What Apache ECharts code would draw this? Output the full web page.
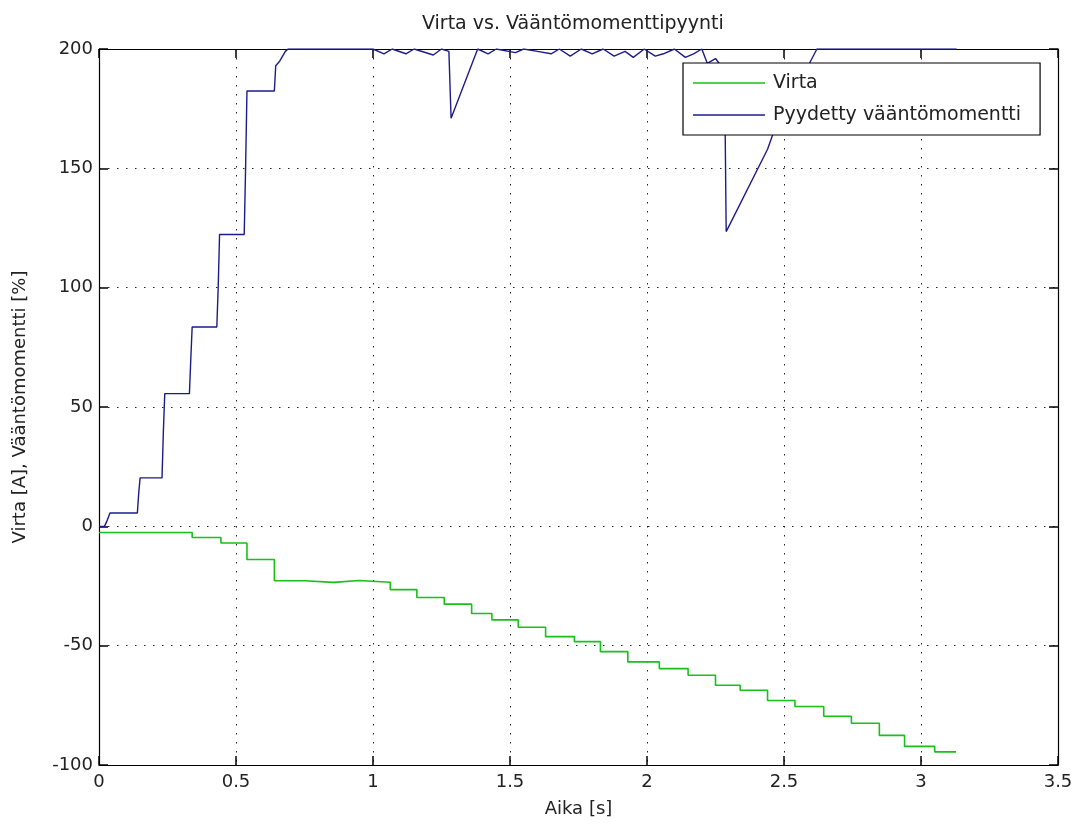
<!DOCTYPE html>
<html>
<head>
<meta charset="utf-8">
<script src="https://cdn.jsdelivr.net/npm/echarts@6/dist/echarts.min.js"></script>
<style>html,body{margin:0;padding:0;background:#fff}#c{width:1078px;height:825px}</style>
</head>
<body>
<div id="c"></div>
<script>
// ---- data ----
const titleText = 'Virta vs. Vääntömomenttipyynti';
const xName = 'Aika [s]';
const yName = 'Virta [A], Vääntömomentti [%]';
const seriesNames = ['Virta', 'Pyydetty vääntömomentti'];
const xTicks = [0, 0.5, 1, 1.5, 2, 2.5, 3, 3.5];
const yTicks = [-100, -50, 0, 50, 100, 150, 200];

// Virta (current): step levels, each starting at given time
const virtaTime = [0, 0.34, 0.445, 0.54, 0.64, 0.75, 0.856, 0.95, 1.063, 1.16, 1.26, 1.36, 1.434, 1.53, 1.63, 1.735, 1.83, 1.93, 2.045, 2.15, 2.25, 2.34, 2.44, 2.54, 2.645, 2.746, 2.848, 2.94, 3.05, 3.128];
const virtaValue = [-2.6, -4.7, -7.0, -13.9, -22.8, -23.5, -22.7, -23.4, -26.5, -29.8, -32.6, -36.5, -39.2, -42.3, -46.2, -48.3, -52.5, -56.8, -59.6, -62.4, -66.6, -68.7, -73.0, -75.5, -79.6, -82.5, -87.6, -92.2, -94.5, -94.5];

// Pyydetty vääntömomentti (requested torque)
const torqueTime = [0, 0.02, 0.03, 0.04, 0.14, 0.145, 0.15, 0.23, 0.235, 0.24, 0.33, 0.335, 0.34, 0.43, 0.435, 0.44, 0.53, 0.535, 0.54, 0.64, 0.645, 0.66, 0.68, 0.69, 1.0, 1.04, 1.07, 1.12, 1.15, 1.22, 1.25, 1.277, 1.285, 1.382, 1.42, 1.45, 1.52, 1.55, 1.6, 1.65, 1.68, 1.72, 1.76, 1.8, 1.84, 1.88, 1.92, 1.95, 1.99, 2.03, 2.06, 2.1, 2.14, 2.17, 2.2, 2.22, 2.25, 2.27, 2.283, 2.289, 2.44, 2.46, 2.62, 3.13];
const torqueValue = [0, 0, 2.5, 5.6, 5.6, 14, 20.3, 20.3, 40, 55.6, 55.6, 70, 83.5, 83.5, 100, 122.3, 122.3, 150, 182.4, 182.4, 193, 195, 199, 200, 200, 198, 200, 198, 200, 197.5, 200, 199, 171, 200, 198, 200, 198.5, 200, 199, 198, 200, 197, 200, 198, 200, 197, 199, 196.5, 200, 197, 198, 200, 196.5, 198, 200, 194, 196, 193, 192, 123.5, 158, 164.5, 200, 200];

const virtaData = virtaTime.map((t, i) => [t, virtaValue[i]]);
const torqueData = torqueTime.map((t, i) => [t, torqueValue[i]]);

const FONT = 'DejaVu Sans';
const chart = echarts.init(document.getElementById('c'), null, {renderer: 'canvas'});
const gridLine = {show: true, lineStyle: {color: '#222', width: 1, type: [1.5, 7.5]}};
const axLine = {show: true, onZero: false, lineStyle: {color: '#000', width: 1.2}};
const tick = {show: true, inside: true, length: 9, lineStyle: {color: '#000', width: 1.5}};
const lbl = {color: '#222', fontFamily: FONT, fontSize: 18};

chart.setOption({
  backgroundColor: '#fff',
  animation: false,
  title: {
    text: titleText, left: 422, top: 15, padding: 0,
    textStyle: {fontFamily: FONT, fontSize: 19, fontWeight: 'normal', color: '#222'}
  },
  grid: {left: 99, right: 20, top: 49, bottom: 60, containLabel: false},
  legend: {
    orient: 'vertical', left: 683, top: 63,
    padding: [9, 19, 9, 10], itemGap: 10, itemWidth: 72, itemHeight: 1.6,
    backgroundColor: '#fff', borderColor: '#000', borderWidth: 1.2,
    textStyle: {fontFamily: FONT, fontSize: 19, color: '#222', padding: [0, 0, 0, 3], lineHeight: 22},
    data: seriesNames.map(n => ({name: n, icon: 'rect'}))
  },
  xAxis: [{
    type: 'value', min: 0, max: 3.5, interval: 0.5,
    name: xName, nameLocation: 'middle', nameGap: 35,
    nameTextStyle: {fontFamily: FONT, fontSize: 18, color: '#222'},
    axisLine: axLine, axisTick: tick, splitLine: gridLine,
    axisLabel: Object.assign({margin: 8, formatter: v => xTicks.includes(v) ? String(v) : ''}, lbl)
  }, {
    type: 'value', position: 'top', min: 0, max: 3.5, interval: 0.5,
    axisLine: axLine, axisTick: tick, splitLine: {show: false}, axisLabel: {show: false}
  }],
  yAxis: [{
    type: 'value', min: -100, max: 200, interval: 50,
    name: yName, nameLocation: 'middle', nameGap: 70, nameRotate: 90,
    nameTextStyle: {fontFamily: FONT, fontSize: 18, color: '#222'},
    axisLine: axLine, axisTick: tick, splitLine: gridLine,
    axisLabel: Object.assign({margin: 6, formatter: v => yTicks.includes(v) ? String(v) : ''}, lbl)
  }, {
    type: 'value', position: 'right', min: -100, max: 200, interval: 50,
    axisLine: axLine, axisTick: tick, splitLine: {show: false}, axisLabel: {show: false}
  }],
  series: [{
    name: seriesNames[0], type: 'line', step: 'end', symbol: 'none',
    data: virtaData, color: '#19c019',
    lineStyle: {color: '#19c019', width: 1.6}
  }, {
    name: seriesNames[1], type: 'line', symbol: 'none',
    data: torqueData, color: '#1c1c88',
    lineStyle: {color: '#1c1c88', width: 1.4}
  }]
});
</script>
</body>
</html>
